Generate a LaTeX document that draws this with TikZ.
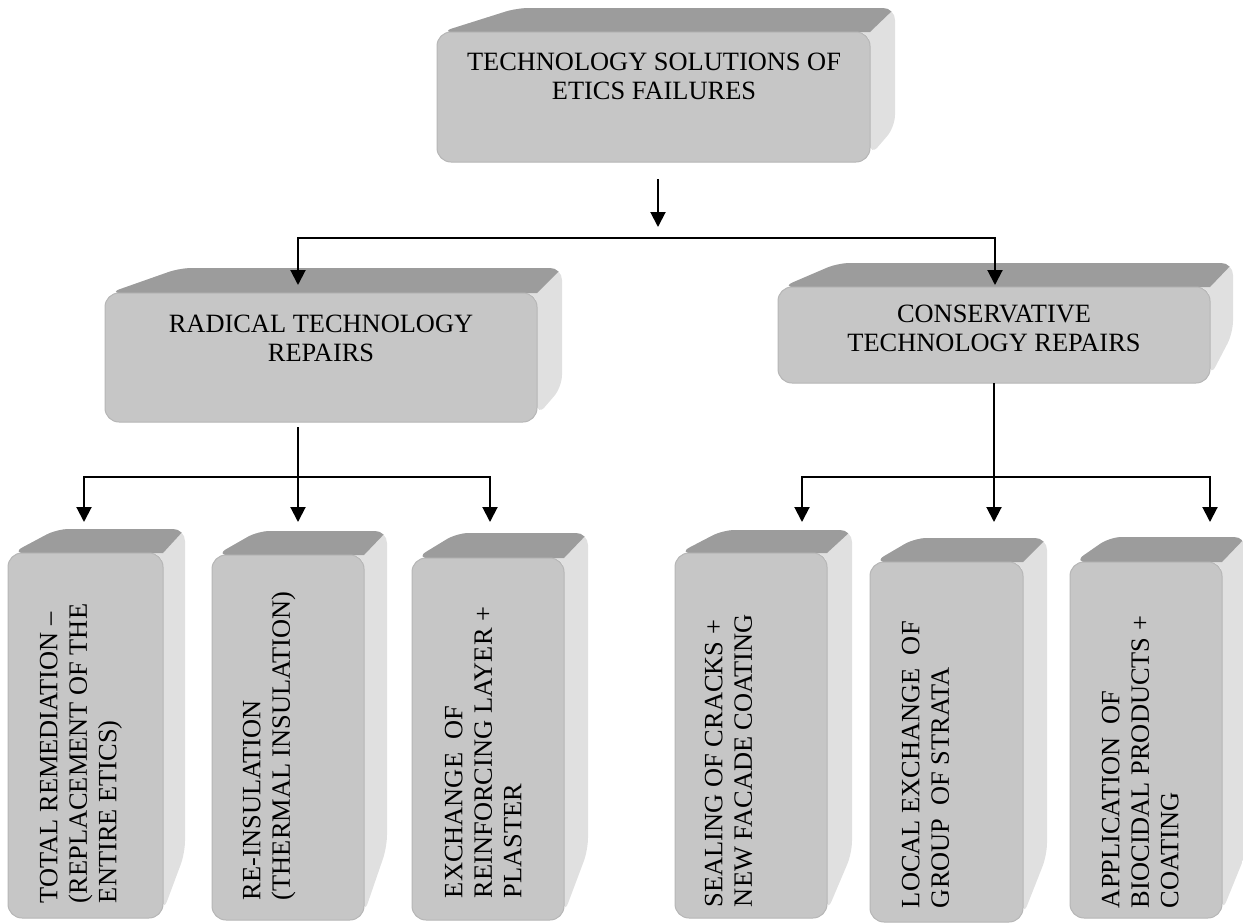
\documentclass[tikz,border=0pt]{standalone}
\usepackage{fontspec}
\setmainfont{Liberation Serif}
\usetikzlibrary{arrows.meta,calc}

\definecolor{frontc}{HTML}{C6C6C6}
\definecolor{topc}{HTML}{9C9C9C}
\definecolor{sidec}{HTML}{E0E0E0}
\definecolor{edgec}{HTML}{B6B6B6}

\tikzset{
  face/.style={fill=frontc, draw=edgec, line width=1pt, rounded corners=14pt, inner sep=0pt, outer sep=0pt},
  lbl/.style={font=\fontsize{26.4}{29.5}\selectfont, inner sep=0pt, outer sep=0pt, text=black},
  conn/.style={line width=2pt, draw=black},
  arr/.style={conn, -{Triangle[length=15pt,width=15pt]}},
}

% #1 name, #2 x1, #3 y1, #4 x2, #5 y2, #6 dxL, #7 dxR, #8 back bottom y, #9 depth dy
\newcommand{\solidbox}[9]{%
  \begin{scope}
    \clip[rounded corners=12pt] (#2+4,#3) -- (#2+#6,#3-#9) -- (#4+#7,#3-#9) -- (#4+#7,#8) -- (#4,#5-6) -- (#4,#3) -- cycle;
    \fill[sidec] (#2,#3-#9-5) rectangle (#4+#7+5,#5+5);
    \fill[topc] (#2+4,#3) -- (#2+#6,#3-#9) -- (#4+#7,#3-#9) -- (#4,#3) -- cycle;
  \end{scope}
  \pgfmathsetmacro\bw{#4-#2}%
  \pgfmathsetmacro\bh{#5-#3}%
  \node[face, minimum width=\bw pt, minimum height=\bh pt] (#1) at ({(#2+#4)/2},{(#3+#5)/2}) {};
}

\begin{document}
\begin{tikzpicture}[x=1pt,y=-1pt]
\useasboundingbox (0,0) rectangle (1243,924);

% boxes
\solidbox{top}{437}{32}{870}{162}{80}{25}{127}{24}
\solidbox{rad}{105}{293}{537}{422}{75}{25}{387}{25}
\solidbox{con}{778}{287}{1210}{383}{60}{23}{333}{24}
\solidbox{b1}{8}{553}{163}{918}{49}{22}{853}{24}
\solidbox{b2}{212}{555}{364}{920}{46}{23}{847}{24}
\solidbox{b3}{412}{558}{564}{920}{45}{24}{850}{25}
\solidbox{b4}{675}{553}{827}{918}{48}{25}{853}{23}
\solidbox{b5}{870}{562}{1023}{922}{45}{24}{855}{24}
\solidbox{b6}{1070}{562}{1222}{918}{40}{24}{853}{25}

% labels
\node[lbl, align=center, anchor=north] (top-t) at (654,53) {TECHNOLOGY SOLUTIONS OF\\ETICS FAILURES};
\node[lbl, align=center, anchor=north] (rad-t) at (321,315) {RADICAL TECHNOLOGY\\REPAIRS};
\node[lbl, align=center, anchor=north] (con-t) at (994,305) {CONSERVATIVE\\TECHNOLOGY REPAIRS};

\node[lbl, rotate=90, align=left, anchor=north west] (b1-t) at (40,903) {TOTAL REMEDIATION –\\(REPLACEMENT OF THE\\ENTIRE ETICS)};
\node[lbl, rotate=90, align=left, anchor=north west] (b2-t) at (243,900) {RE-INSULATION\\(THERMAL INSULATION)};
\node[lbl, rotate=90, align=left, anchor=north west] (b3-t) at (445,898) {EXCHANGE\ \ OF\\REINFORCING LAYER +\\PLASTER};
\node[lbl, rotate=90, align=left, anchor=north west] (b4-t) at (705,907) {SEALING OF CRACKS +\\NEW FACADE COATING};
\node[lbl, rotate=90, align=left, anchor=north west] (b5-t) at (902,908) {LOCAL EXCHANGE\ \ OF\\GROUP\ \ OF STRATA};
\node[lbl, rotate=90, align=left, anchor=north west] (b6-t) at (1102,908) {APPLICATION\ \ OF\\BIOCIDAL PRODUCTS +\\COATING};

% connector points
\coordinate (top-out) at (658,179);
\coordinate (top-end) at (658,227);
\coordinate (j0) at (658,238);
\coordinate (rad-in) at (298,285);
\coordinate (con-in) at (995,285);

\coordinate (rad-out) at (298,427);
\coordinate (rj) at (298,477);
\coordinate (b1-in) at (84,522);
\coordinate (b2-in) at (298,522);
\coordinate (b3-in) at (490,522);

\coordinate (con-out) at (994,383);
\coordinate (cj) at (994,477);
\coordinate (b4-in) at (802,522);
\coordinate (b5-in) at (994,522);
\coordinate (b6-in) at (1210,522);

% connectors
\draw[arr] (top-out) -- (top-end);
\draw[arr] (j0) -| (rad-in);
\draw[arr] (j0) -| (con-in);

\draw[arr] (rad-out) -- (b2-in);
\draw[arr] (rj) -| (b1-in);
\draw[arr] (rj) -| (b3-in);

\draw[arr] (con-out) -- (b5-in);
\draw[arr] (cj) -| (b4-in);
\draw[arr] (cj) -| (b6-in);
\end{tikzpicture}
\end{document}
